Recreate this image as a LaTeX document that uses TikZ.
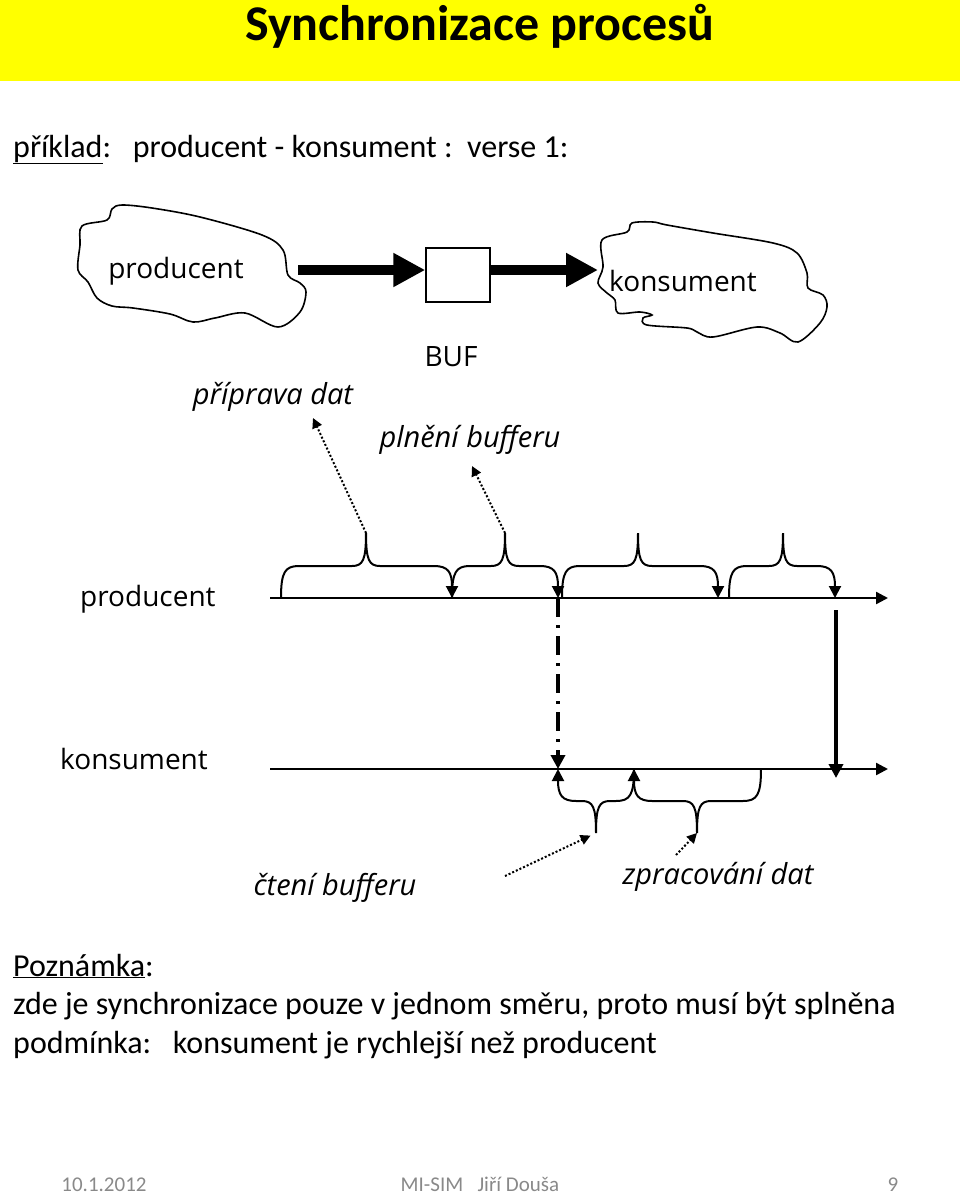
\documentclass[tikz,border=0pt]{standalone}
\usepackage{fontspec}
\setmainfont{Carlito}
\newfontfamily\labelfont{Open Sans}
\usetikzlibrary{positioning,arrows.meta,calc}
\definecolor{titleyellow}{RGB}{255,255,0}
\definecolor{footgray}{RGB}{137,137,137}

\tikzset{
  labeltext/.style={inner sep=0pt,font=\labelfont\fontsize{28}{32}\selectfont},
  slanttext/.style={inner sep=0pt,font=\labelfont\itshape\fontsize{29}{34}\selectfont},
  notetext/.style={inner sep=0pt,anchor=base west,font=\fontsize{32}{38}\selectfont},
  foottext/.style={inner sep=0pt,anchor=base,text=footgray,font=\fontsize{21}{24}\selectfont},
  timeline/.style={line width=2.4pt,-{Triangle[length=12pt,width=12pt]}},
  brace/.style={line width=2pt},
  bigarrow/.style={line width=10pt,-{Triangle[length=32pt,width=32pt]}},
  pointer/.style={line width=2pt,dotted,-{Triangle[length=10pt,width=10pt]}},
  cloud/.style={line width=1.6pt,smooth cycle,tension=0.55}
}

\newcommand{\prodbrace}[4]{%
  \draw[brace,-{Triangle[length=12pt,width=12pt]}] (#1,598) .. controls (#1,572) and ({#1+4},566) .. ({#1+18},566) -- ({#2-14},566) .. controls ({#2-3},566) and (#2,560) .. (#2,533) coordinate (#4) .. controls (#2,560) and ({#2+3},566) .. ({#2+14},566) -- ({#3-18},566) .. controls ({#3-4},566) and (#3,572) .. (#3,598);}
\newcommand{\consbrace}[4]{%
  \draw[brace,{Triangle[length=12pt,width=12pt]}-] (#1,769) .. controls (#1,795) and ({#1+4},801) .. ({#1+18},801) -- ({#2-14},801) .. controls ({#2-3},801) and (#2,807) .. (#2,833) coordinate (#4) .. controls (#2,807) and ({#2+3},801) .. ({#2+14},801) -- ({#3-18},801) .. controls ({#3-4},801) and (#3,795) .. (#3,769);}

\begin{document}
\begin{tikzpicture}[x=1pt,y=-1pt]
\useasboundingbox (0,0) rectangle (960,1195);
\fill[titleyellow] (0,0) rectangle (960,81);
\node[inner sep=0pt,font=\fontsize{50}{56}\selectfont\bfseries] (title) at (480,26) {Synchronizace procesů};
\node[notetext] (example) at (13,157) {\underline{příklad}:\ \ \ producent - konsument :\ \ verse 1:};

\draw[cloud] plot coordinates {(82,226) (107,220) (112,209) (122,205) (152,208) (200,217) (262,235) (283,250) (288,275) (300,283) (306,292) (300,312) (278,327) (245,313) (215,318) (193,322) (170,314) (133,308) (112,306) (97,298) (88,282) (78,270) (80,245)};
\draw[cloud] plot coordinates {(602,240) (627,232) (632,223) (653,222) (667,225) (713,233) (773,243) (797,253) (807,273) (808,288) (823,295) (827,307) (820,323) (798,342) (780,333) (757,327) (713,337) (697,332) (687,328) (647,325) (643,318) (652,315) (640,312) (618,313) (615,300) (607,293) (598,283) (603,267)};
\node[labeltext] (producer) at (176,271) {producent};
\node[labeltext] (consumer) at (683,281) {konsument};
\node[draw,line width=1.5pt,minimum width=64pt,minimum height=54pt] (buf) at (458,275) {};
\node[labeltext] (buflabel) at (451,357) {BUF};
\coordinate (prodout) at (298,270);
\coordinate (consin) at (598,270);
\draw[bigarrow] (prodout) -- (buf.west |- prodout);
\draw[bigarrow] (buf.east |- consin) -- (consin);

\node[slanttext] (prepare) at (273,397) {příprava dat};
\node[slanttext] (fill) at (470,440) {plnění bufferu};
\node[slanttext] (read) at (335,888) {čtení bufferu};
\node[slanttext] (process) at (718,877) {zpracování dat};

\node[labeltext,anchor=west] (prodline) at (80,599) {producent};
\node[labeltext,anchor=west] (consline) at (60,759) {konsument};
\coordinate (p0) at (270,598);
\coordinate (p1) at (888,598);
\coordinate (c0) at (270,769);
\coordinate (c1) at (888,769);
\draw[timeline] (p0) -- (p1);
\draw[timeline] (c0) -- (c1);

\prodbrace{281}{366}{452}{b1}
\prodbrace{452}{505}{558}{b2}
\prodbrace{562}{638}{718}{b3}
\prodbrace{729}{783}{835}{b4}
\consbrace{558}{596}{634}{k1}
\consbrace{634}{697}{761}{k2}

\draw[line width=4pt,dash pattern=on 19pt off 8pt on 3pt off 8pt,-{Triangle[length=14pt,width=14pt]}] (558,598) -- (558,769);
\draw[line width=4pt,-{Triangle[length=14pt,width=14pt]}] (836,610) -- (836,778);

\coordinate (prepend) at (313,418);
\coordinate (fillend) at (472,466);
\coordinate (readstart) at (505,876);
\coordinate (procstart) at (676,855);
\draw[pointer] (b1) -- (prepend);
\draw[pointer] (b2) -- (fillend);
\draw[pointer,shorten >=6pt] (readstart) -- (k1);
\draw[pointer] (procstart) -- (k2);

\node[notetext] (note) at (13,976) {\underline{Poznámka}:};
\node[notetext] (note1) at (13,1014) {zde je synchronizace pouze v jednom směru, proto musí být splněna};
\node[notetext] (note2) at (13,1053) {podmínka:\ \ \ konsument je rychlejší než producent};

\node[foottext] (date) at (104,1191) {10.1.2012};
\node[foottext] (author) at (480,1191) {MI-SIM\ \ \ Jiří Douša};
\node[foottext] (page) at (893,1191) {9};
\end{tikzpicture}
\end{document}
